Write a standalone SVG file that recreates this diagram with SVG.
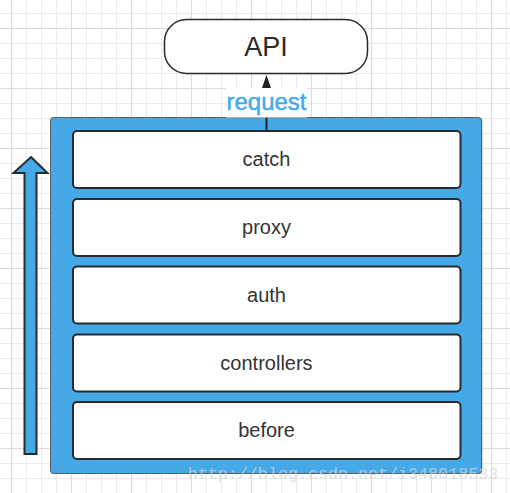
<svg xmlns="http://www.w3.org/2000/svg" width="510" height="493" viewBox="0 0 510 493">
  <style>
    .layer { fill: #ffffff; stroke: #2a2a2a; stroke-width: 2; }
    .lbl { font-family: "Liberation Sans", Arial, Helvetica, sans-serif; font-size: 20px; fill: #333333; text-anchor: middle; }
    .conn { stroke: #222222; stroke-width: 2; fill: none; }
  </style>
  <defs>
    <pattern id="minor" patternUnits="userSpaceOnUse" x="11" y="13" width="15" height="15">
      <path d="M0 0.5 H15 M0.5 0 V15" stroke="#ebebeb" stroke-width="1" fill="none"/>
    </pattern>
    <pattern id="major" patternUnits="userSpaceOnUse" x="11" y="28" width="60" height="60">
      <path d="M0 0.5 H60 M0.5 0 V60" stroke="#dcdcdc" stroke-width="1" fill="none"/>
    </pattern>
  </defs>

  <g id="background">
    <rect x="0" y="0" width="510" height="493" fill="#ffffff"/>
    <rect x="0" y="0" width="510" height="493" fill="url(#minor)"/>
    <rect x="0" y="0" width="510" height="493" fill="url(#major)"/>
  </g>

  <g id="api">
    <rect x="164.5" y="19.5" width="203" height="54" rx="22" ry="22" fill="#ffffff" stroke="#2a2a2a" stroke-width="1.5"/>
    <text x="266" y="56" font-family="'Liberation Sans', Arial, Helvetica, sans-serif" font-size="27" fill="#2a2a2a" text-anchor="middle">API</text>
  </g>

  <g id="flow-arrow">
    <polygon points="31,157 47.5,173 36.5,173 36.5,454 24.5,454 24.5,173 13.5,173" fill="#45a9e8" stroke="#2a2a2a" stroke-width="2" stroke-linejoin="miter"/>
  </g>

  <g id="middleware-stack">
    <rect x="51.5" y="118" width="431" height="356" rx="3" fill="#3a3a3a" opacity="0.35"/>
    <rect x="50.5" y="117.5" width="431" height="356" rx="3" fill="#45a9e8" stroke="#5c5c5c" stroke-width="1"/>
  </g>

  <g id="catch">
    <rect class="layer" x="73" y="131" width="387.5" height="57" rx="4"/>
    <text class="lbl" x="266.5" y="166">catch</text>
  </g>
  <g id="proxy">
    <rect class="layer" x="73" y="199" width="387.5" height="57" rx="4"/>
    <text class="lbl" x="266.5" y="234">proxy</text>
  </g>
  <g id="auth">
    <rect class="layer" x="73" y="266.5" width="387.5" height="57" rx="4"/>
    <text class="lbl" x="266.5" y="301.5">auth</text>
  </g>
  <g id="controllers">
    <rect class="layer" x="73" y="334.5" width="387.5" height="57" rx="4"/>
    <text class="lbl" x="266.5" y="369.5">controllers</text>
  </g>
  <g id="before">
    <rect class="layer" x="73" y="402" width="387.5" height="57" rx="4"/>
    <text class="lbl" x="266.5" y="437">before</text>
  </g>

  <g id="connectors">
    <line class="conn" x1="266.5" y1="131" x2="266.5" y2="87"/>
    <rect x="226" y="88" width="81" height="29.5" fill="#ffffff"/>
    <text x="266.5" y="110" font-family="'Liberation Sans', Arial, Helvetica, sans-serif" font-size="24" fill="#47a9ee" stroke="#47a9ee" stroke-width="0.5" text-anchor="middle">request</text>
    <polygon points="266.5,75 271,88 262,88" fill="#222222"/>
  </g>

  <text x="343" y="479" font-family="'Liberation Mono', 'Courier New', monospace" font-size="16.7" fill="#d4d4d4" fill-opacity="0.7" text-anchor="middle">http://blog.csdn.net/i348018533</text>
</svg>
